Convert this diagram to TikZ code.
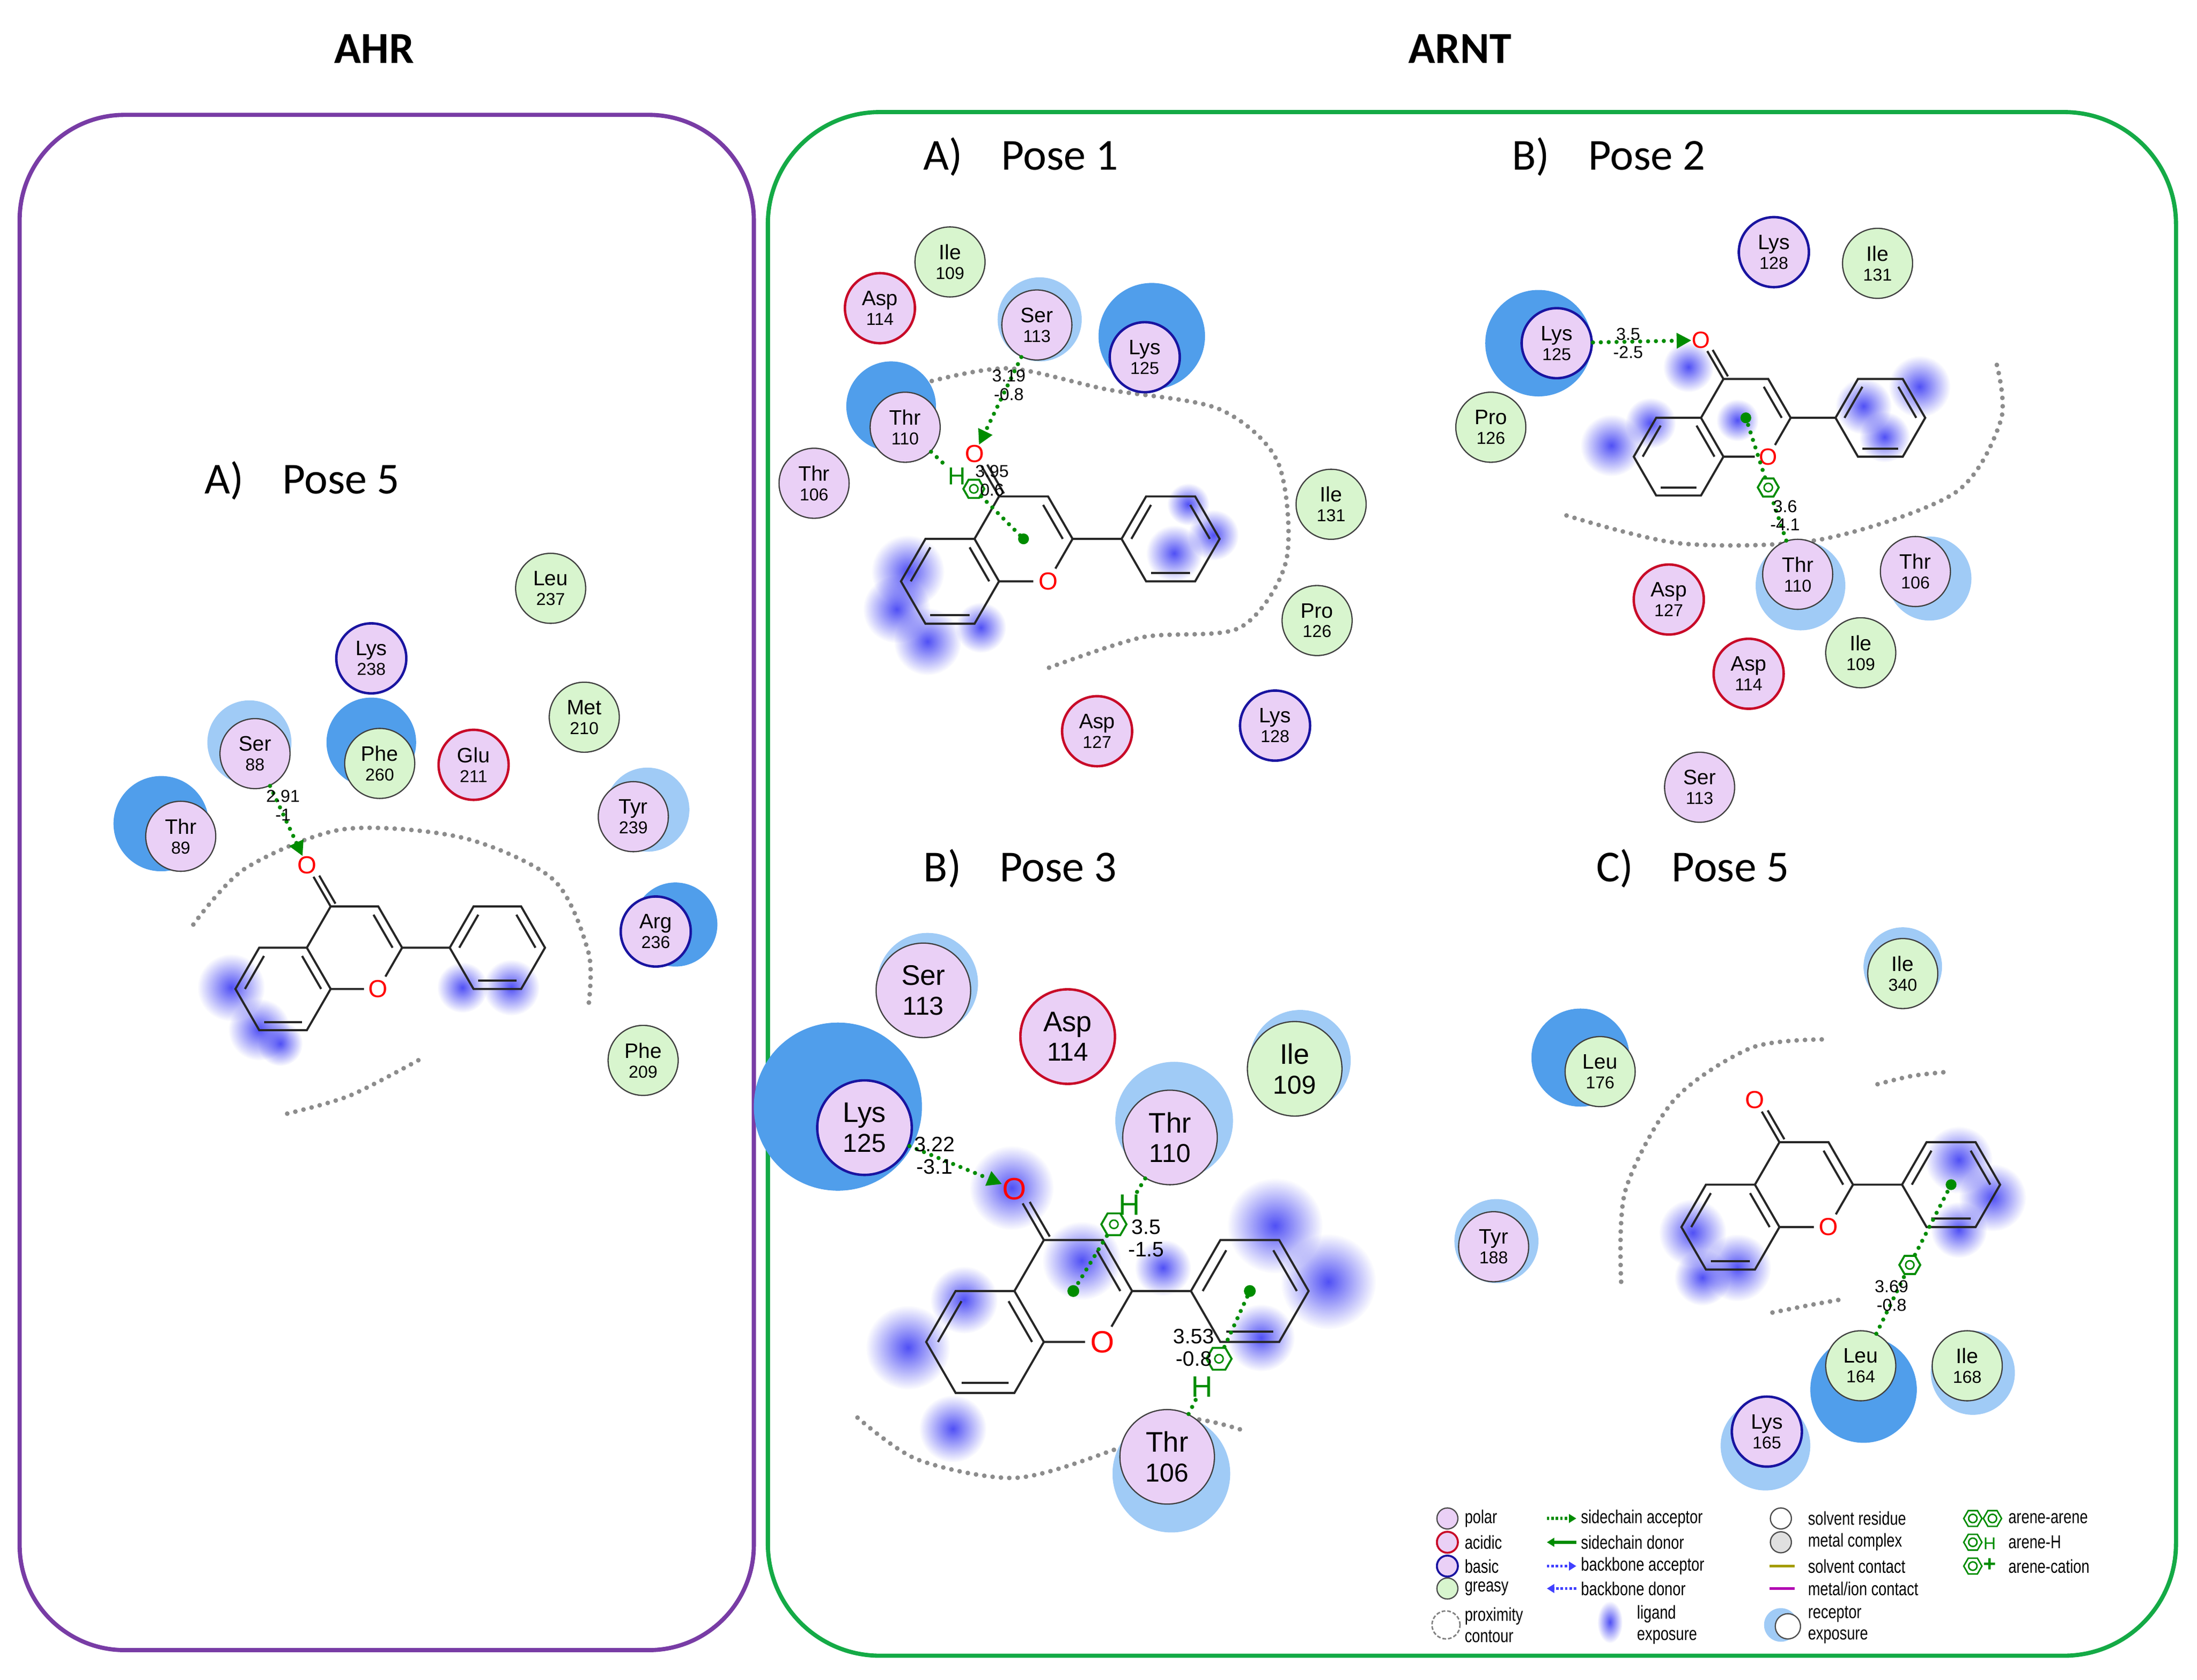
\documentclass[tikz,border=0pt]{standalone}
\usepackage{fontspec}
\setmainfont{Liberation Sans}
\newfontfamily\calfnt{Carlito}
\newfontfamily\lgf{Liberation Sans}[FakeStretch=0.78]
\usetikzlibrary{calc,fadings,shapes.geometric,arrows.meta}
\tikzfading[name=blobfade, inner color=transparent!0, outer color=transparent!100]
\definecolor{polarc}{RGB}{234,208,246}
\definecolor{greasyc}{RGB}{216,245,206}
\definecolor{acidc}{RGB}{200,10,40}
\definecolor{basec}{RGB}{25,20,160}
\definecolor{hl}{RGB}{160,203,246}
\definecolor{hs}{RGB}{80,158,235}
\definecolor{hbg}{RGB}{0,140,0}
\definecolor{expc}{RGB}{80,80,245}
\definecolor{ahrc}{RGB}{120,60,165}
\definecolor{arntc}{RGB}{20,170,70}
\tikzset{
 res/.style={circle,minimum size=1cm,inner sep=0pt,draw=black!75,line width=0.5pt,align=center,font=\fontsize{8.5}{9}\selectfont},
 bres/.style={res,minimum size=1.35cm,font=\fontsize{11.5}{13}\selectfont},
 polar/.style={fill=polarc},
 greasy/.style={fill=greasyc},
 acidic/.style={fill=polarc,draw=acidc,line width=1pt},
 basic/.style={fill=polarc,draw=basec,line width=1pt},
 bond/.style={line width=0.85pt,black!85},
 hb/.style={hbg,line width=1.7pt,dash pattern=on 0pt off 3.2pt,line cap=round},
 hbarr/.style={hb,-{Triangle[length=6pt,width=6pt,fill=hbg]}},
 cont/.style={black!45,line width=1.9pt,dash pattern=on 0pt off 3.4pt,line cap=round},
 lbl/.style={font=\fontsize{7}{7.5}\selectfont,align=center,inner sep=0pt},
 arene/.style={regular polygon,regular polygon sides=6,draw=hbg,line width=0.8pt,minimum size=0.3cm,inner sep=0pt,
   path picture={\draw[hbg,line width=0.6pt] (path picture bounding box.center) circle (0.06cm);}},
 hlab/.style={hbg,font=\fontsize{10}{10}\selectfont,inner sep=0pt},
 leg/.style={anchor=west,font=\lgf\fontsize{7.6}{8.6}\selectfont,align=left,inner sep=0pt},
 ptitle/.style={font=\calfnt\fontsize{18}{20}\selectfont,anchor=west},
}
\newcommand\rn[1]{{\fontsize{7}{7}\selectfont #1}}
\newcommand\brn[1]{{\fontsize{10.5}{11}\selectfont #1}}
\newcommand\res[6]{\node[res,#2] (#1) at (#3,-#4) {#5\\[-1pt]\rn{#6}};}
\newcommand\bres[6]{\node[bres,#2] (#1) at (#3,-#4) {#5\\[-1pt]\brn{#6}};}
\newcommand\halo[4][hl]{\fill[#1] (#2,-#3) circle (#4);}
\newcommand\blob[3]{\fill[expc,path fading=blobfade] (#1,-#2) circle (#3);}
\newcommand\flav[5]{%
\begin{scope}[shift={(#1,-#2)},scale=#3]
\coordinate (#4A) at (0,0); \coordinate (#4C) at (1.5,0.866); \coordinate (#4P) at (4.5,0.866);
\coordinate (a1) at (-0.5,0.866); \coordinate (a2) at (0.5,0.866); \coordinate (a3) at (1,0);
\coordinate (a4) at (0.5,-0.866); \coordinate (a5) at (-0.5,-0.866); \coordinate (a6) at (-1,0);
\coordinate (c4) at (1,1.732); \coordinate (c3) at (2,1.732); \coordinate (c2) at (2.5,0.866);
\coordinate (o1) at (2,0); \coordinate (ok) at (0.5,2.598);
\coordinate (p1) at (3.5,0.866); \coordinate (p2) at (4,1.732); \coordinate (p3) at (5,1.732);
\coordinate (p4) at (5.5,0.866); \coordinate (p5) at (5,0); \coordinate (p6) at (4,0);
\draw[bond] (a1)--(a2)--(a3)--(a4)--(a5)--(a6)--cycle;
\draw[bond] (a2)--(c4)--(c3)--(c2)--(p1);
\draw[bond] (c2)--($(o1)!0.3!(c2)$) ($(o1)!0.3!(a3)$)--(a3);
\draw[bond] (c4)--($(ok)!0.28!(c4)$);
\draw[bond] ($(c4)+(0.1,0.06)$)--($(ok)!0.32!(c4)+(0.1,0.06)$);
\draw[bond] (p1)--(p2)--(p3)--(p4)--(p5)--(p6)--cycle;
\foreach \u/\v/\c in {a6/a1/#4A,a2/a3/#4A,a4/a5/#4A,c3/c2/#4C,p1/p2/#4P,p3/p4/#4P,p5/p6/#4P}
  \draw[bond] ($(\u)!0.2!(\c)$)--($(\v)!0.2!(\c)$);
\node[red,inner sep=0pt,font=\fontsize{#5}{#5}\selectfont] (#4O) at (ok) {O};
\node[red,inner sep=0pt,font=\fontsize{#5}{#5}\selectfont] (#4R) at (o1) {O};
\end{scope}}
\begin{document}
\begin{tikzpicture}[x=0.02cm,y=0.02cm]
\useasboundingbox (0,0) rectangle (1568,-1199);
\fill[white] (0,0) rectangle (1568,-1199);
\draw[ahrc,line width=1.7pt,rounded corners=1.5cm] (14,-82) rectangle (538,-1178);
\draw[arntc,line width=1.7pt,rounded corners=1.6cm] (548,-80) rectangle (1553,-1182);
\node[font=\calfnt\bfseries\fontsize{18}{20}\selectfont] (tahr) at (267,-35) {AHR};
\node[font=\calfnt\bfseries\fontsize{18}{20}\selectfont] (tarnt) at (1042,-35) {ARNT};
\node[ptitle] (l1) at (140,-343) {A)\hspace{0.55cm}Pose 5};
\node[ptitle] (l2) at (653,-112) {A)\hspace{0.55cm}Pose 1};
\node[ptitle] (l3) at (1073,-112) {B)\hspace{0.55cm}Pose 2};
\node[ptitle] (l4) at (653,-620) {B)\hspace{0.55cm}Pose 3};
\node[ptitle] (l5) at (1133,-620) {C)\hspace{0.55cm}Pose 5};

% AHR pose 5
\draw[cont] plot[smooth] coordinates {(138,-660) (175,-620) (245,-592) (330,-598) (395,-628) (420,-680) (420,-718)};
\draw[cont] plot[smooth] coordinates {(205,-795) (250,-782) (302,-755)};
\blob{165}{705}{24}\blob{185}{735}{22}\blob{200}{745}{16}\blob{330}{705}{18}\blob{365}{705}{20}
\halo{178}{530}{30}\halo[hs]{265}{530}{32}\halo{462}{578}{30}\halo[hs]{115}{588}{34}\halo[hs]{482}{660}{30}
\flav{202}{706}{34}{L1}{10}
\res{LeuA}{greasy}{393}{420}{Leu}{237}
\res{LysA}{basic}{265}{470}{Lys}{238}
\res{MetA}{greasy}{417}{512}{Met}{210}
\res{SerA}{polar}{182}{538}{Ser}{88}
\res{PheA}{greasy}{271}{545}{Phe}{260}
\res{GluA}{acidic}{338}{546}{Glu}{211}
\res{TyrA}{polar}{452}{583}{Tyr}{239}
\res{ThrA}{polar}{129}{597}{Thr}{89}
\res{ArgA}{basic}{468}{665}{Arg}{236}
\res{PheB}{greasy}{459}{757}{Phe}{209}
\draw[hbarr] (SerA) -- (L1O);
\node[lbl] (d1) at (202,-575) {2.91\\-1};

% ARNT pose 1
\draw[cont] plot[smooth] coordinates {(665,-272) (720,-263) (790,-278) (870,-292) (912,-330) (918,-400) (885,-448) (815,-455) (745,-478)};
\blob{648}{408}{26}\blob{640}{435}{24}\blob{662}{458}{24}\blob{700}{448}{18}\blob{838}{395}{20}\blob{866}{382}{18}\blob{848}{360}{15}
\halo{742}{228}{30}\halo[hs]{822}{240}{38}\halo[hs]{636}{290}{32}
\flav{678}{415}{35}{L2}{10}
\res{Ile109a}{greasy}{678}{187}{Ile}{109}
\res{Asp114a}{acidic}{628}{220}{Asp}{114}
\res{Ser113a}{polar}{740}{232}{Ser}{113}
\res{Lys125a}{basic}{817}{255}{Lys}{125}
\res{Thr110a}{polar}{646}{305}{Thr}{110}
\res{Thr106a}{polar}{581}{345}{Thr}{106}
\res{Ile131a}{greasy}{950}{360}{Ile}{131}
\res{Pro126a}{greasy}{940}{443}{Pro}{126}
\res{Asp127a}{acidic}{783}{522}{Asp}{127}
\res{Lys128a}{basic}{910}{518}{Lys}{128}
\draw[hbarr] (Ser113a) -- (L2O);
\node[lbl] (d2) at (720,-275) {3.19\\-0.8};
\node[hlab] (h2) at (683,-340) {H};
\node[arene] (ar2) at (695,-349) {};
\draw[hb] (Thr110a) -- (h2);
\draw[hb] (ar2) -- (L2C);
\fill[hbg] (L2C) circle (2.2pt);
\node[lbl] (d2b) at (708,-343) {3.95\\0.6};

% ARNT pose 2
\draw[cont] plot[smooth] coordinates {(1118,-368) (1200,-388) (1300,-385) (1395,-352) (1428,-300) (1425,-260)};
\blob{1150}{318}{22}\blob{1178}{302}{18}\blob{1205}{262}{18}\blob{1330}{290}{20}\blob{1370}{276}{22}\blob{1345}{312}{18}\blob{1240}{300}{15}
\halo[hs]{1098}{245}{38}\halo{1285}{418}{32}\halo{1377}{413}{30}
\flav{1198}{326}{32}{L3}{9.5}
\res{Lys128b}{basic}{1266}{180}{Lys}{128}
\res{Ile131b}{greasy}{1340}{188}{Ile}{131}
\res{Lys125b}{basic}{1111}{245}{Lys}{125}
\res{Pro126b}{greasy}{1064}{305}{Pro}{126}
\res{Asp127b}{acidic}{1191}{428}{Asp}{127}
\res{Thr110b}{polar}{1283}{410}{Thr}{110}
\res{Thr106b}{polar}{1367}{408}{Thr}{106}
\res{Ile109b}{greasy}{1328}{466}{Ile}{109}
\res{Asp114b}{acidic}{1248}{481}{Asp}{114}
\res{Ser113b}{polar}{1213}{562}{Ser}{113}
\draw[hbarr] (Lys125b) -- (L3O);
\node[lbl] (d3) at (1162,-245) {3.5\\-2.5};
\node[arene] (ar3) at (1262,-348) {};
\draw[hb] (Thr110b) -- (ar3);
\draw[hb] (ar3) -- (L3C);
\fill[hbg] (L3C) circle (2.2pt);
\node[lbl] (d3b) at (1274,-368) {3.6\\-4.1};

% ARNT pose 3
\draw[cont] plot[smooth] coordinates {(612,-1012) (655,-1042) (725,-1055) (795,-1035) (845,-1013) (890,-1022)};
\blob{648}{962}{30}\blob{688}{928}{24}\blob{680}{1020}{24}\blob{722}{848}{30}\blob{772}{900}{28}\blob{910}{875}{34}\blob{948}{915}{34}\blob{900}{955}{24}\blob{830}{905}{20}
\halo[hs]{598}{790}{60}\halo{838}{800}{42}\halo{836}{1052}{42}\halo{662}{702}{36}\halo{928}{757}{36}
\flav{703}{958}{42}{L4}{12.5}
\bres{Ser113c}{polar}{659}{707}{Ser}{113}
\bres{Asp114c}{acidic}{762}{740}{Asp}{114}
\bres{Ile109c}{greasy}{924}{763}{Ile}{109}
\bres{Lys125c}{basic}{617}{805}{Lys}{125}
\bres{Thr110c}{polar}{835}{812}{Thr}{110}
\bres{Thr106c}{polar}{833}{1040}{Thr}{106}
\draw[hbarr] (Lys125c) -- (L4O);
\node[lbl,font=\fontsize{8.5}{9}\selectfont] (d4) at (667,-825) {3.22\\-3.1};
\node[hlab,font=\fontsize{12}{12}\selectfont] (h4a) at (806,-860) {H};
\node[arene,minimum size=0.36cm] (ar4a) at (795,-874) {};
\draw[hb] (Thr110c) -- (h4a);
\draw[hb] (ar4a) -- (L4C);
\fill[hbg] (L4C) circle (2.4pt);
\node[lbl,font=\fontsize{8.5}{9}\selectfont] (d4b) at (818,-884) {3.5\\-1.5};
\node[hlab,font=\fontsize{12}{12}\selectfont] (h4b) at (858,-990) {H};
\node[arene,minimum size=0.36cm] (ar4b) at (870,-970) {};
\draw[hb] (Thr106c) -- (h4b);
\draw[hb] (ar4b) -- (L4P);
\fill[hbg] (L4P) circle (2.4pt);
\node[lbl,font=\fontsize{8.5}{9}\selectfont] (d4c) at (852,-962) {3.53\\-0.8};

% ARNT pose 5
\draw[cont] plot[smooth] coordinates {(1157,-915) (1160,-850) (1195,-785) (1250,-748) (1302,-742)};
\draw[cont] plot[smooth] coordinates {(1340,-774) (1365,-768) (1392,-765)};
\draw[cont] plot[smooth] coordinates {(1265,-937) (1290,-932) (1312,-928)};
\blob{1208}{880}{24}\blob{1240}{905}{24}\blob{1215}{912}{20}\blob{1398}{828}{24}\blob{1422}{855}{24}\blob{1398}{878}{20}
\halo{1358}{690}{28}\halo[hs]{1128}{755}{35}\halo{1068}{886}{30}\halo[hs]{1330}{992}{38}\halo{1408}{980}{30}\halo{1260}{1032}{32}
\flav{1235}{876}{35}{L5}{10}
\res{Ile340}{greasy}{1358}{695}{Ile}{340}
\res{Leu176}{greasy}{1142}{765}{Leu}{176}
\res{Tyr188}{polar}{1066}{890}{Tyr}{188}
\res{Leu164}{greasy}{1328}{975}{Leu}{164}
\res{Ile168}{greasy}{1404}{975}{Ile}{168}
\res{Lys165}{basic}{1261}{1022}{Lys}{165}
\node[arene] (ar5) at (1363,-903) {};
\draw[hb] (Leu164) -- (ar5);
\draw[hb] (ar5) -- (L5P);
\fill[hbg] (L5P) circle (2.2pt);
\node[lbl] (d5) at (1350,-925) {3.69\\-0.8};

% legend
\tikzset{lc/.style={circle,minimum size=0.3cm,inner sep=0pt,line width=0.5pt,draw=black!70}}
\node[lc,polar] (k1) at (1033,-1084) {}; \node[leg] at (1045,-1084) {polar};
\node[lc,acidic,line width=0.8pt] (k2) at (1033,-1101) {}; \node[leg] at (1045,-1101) {acidic};
\node[lc,basic,line width=0.8pt] (k3) at (1033,-1118) {}; \node[leg] at (1045,-1118) {basic};
\node[lc,greasy] (k4) at (1033,-1134) {}; \node[leg] at (1045,-1134) {greasy};
\draw[black!50,line width=0.6pt,dash pattern=on 1.5pt off 0.8pt] (1032,-1160) circle (10);
\node[leg] at (1045,-1160) {proximity\\contour};
\coordinate (s1a) at (1104,-1084); \coordinate (s1b) at (1125,-1084);
\draw[hbg,line width=1.2pt,dash pattern=on 1pt off 0.8pt,-{Triangle[length=3pt,width=3.5pt]}] (s1a) -- (s1b);
\node[leg] at (1128,-1084) {sidechain acceptor};
\coordinate (s2a) at (1125,-1101); \coordinate (s2b) at (1104,-1101);
\draw[hbg,line width=1.2pt,-{Triangle[length=3pt,width=3.5pt]}] (s2a) -- (s2b);
\node[leg] at (1128,-1101) {sidechain donor};
\coordinate (s3a) at (1104,-1118); \coordinate (s3b) at (1125,-1118);
\draw[blue!75,line width=1.2pt,dash pattern=on 1pt off 0.8pt,-{Triangle[length=3pt,width=3.5pt]}] (s3a) -- (s3b);
\node[leg] at (1128,-1118) {backbone acceptor};
\coordinate (s4a) at (1125,-1134); \coordinate (s4b) at (1104,-1134);
\draw[blue!75,line width=1.2pt,dash pattern=on 1pt off 0.8pt,-{Triangle[length=3pt,width=3.5pt]}] (s4a) -- (s4b);
\node[leg] at (1128,-1134) {backbone donor};
\fill[expc,path fading=blobfade] (1149,-1158) ellipse (9 and 15);
\node[leg] at (1168,-1160) {ligand\\exposure};
\node[lc,fill=white] (k5) at (1271,-1084) {}; \node[leg] at (1290,-1084) {solvent residue};
\node[lc,fill=black!12] (k6) at (1271,-1101) {}; \node[leg] at (1290,-1101) {metal complex};
\draw[olive!80!yellow,line width=1.2pt] (1263,-1118) -- (1281,-1118); \node[leg] at (1290,-1118) {solvent contact};
\draw[violet!60!magenta,line width=1.2pt] (1263,-1134) -- (1281,-1134); \node[leg] at (1290,-1134) {metal/ion contact};
\fill[hl] (1271,-1160) circle (12);
\node[lc,fill=white,minimum size=0.36cm] (k7) at (1276,-1161) {};
\node[leg] at (1290,-1160) {receptor\\exposure};
\node[arene,minimum size=0.26cm,line width=0.6pt] (g1) at (1408,-1084) {};
\node[arene,minimum size=0.26cm,line width=0.6pt] (g2) at (1422,-1084) {};
\node[leg] at (1433,-1084) {arene-arene};
\node[arene,minimum size=0.26cm,line width=0.6pt] (g3) at (1408,-1101) {};
\node[hlab,font=\fontsize{7}{7}\selectfont] (g3h) at (1420,-1102) {H};
\node[leg] at (1433,-1101) {arene-H};
\node[arene,minimum size=0.26cm,line width=0.6pt] (g4) at (1408,-1118) {};
\node[hlab,font=\bfseries\fontsize{9}{9}\selectfont] (g4p) at (1420,-1117) {+};
\node[leg] at (1433,-1118) {arene-cation};
\end{tikzpicture}
\end{document}
